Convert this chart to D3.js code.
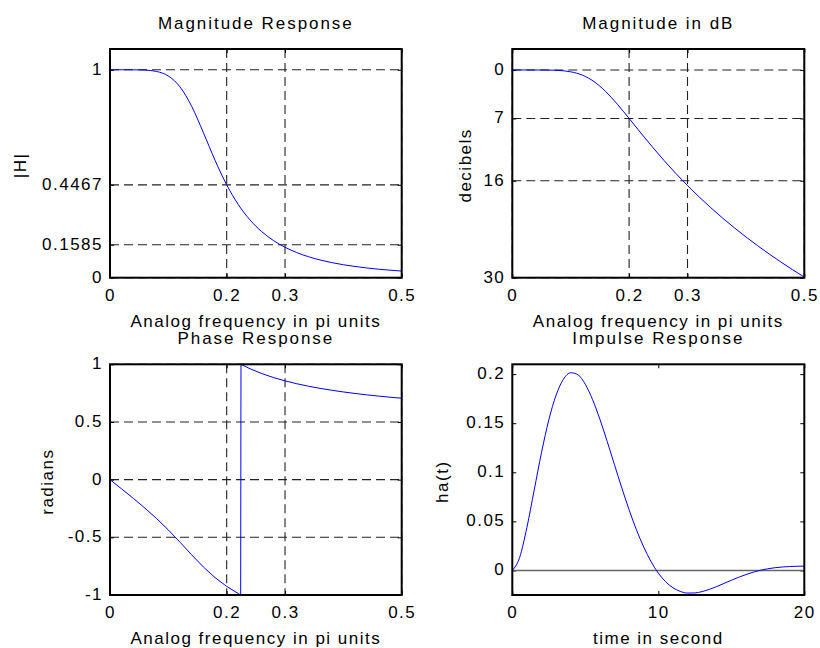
<!DOCTYPE html>
<html>
<head>
<meta charset="utf-8">
<script src="https://cdnjs.cloudflare.com/ajax/libs/d3/7.8.5/d3.min.js"></script>
<style>
body { margin: 0; background: #fff; }
svg text {
	font-family: "Liberation Sans", Arial, sans-serif;
	font-size: 17px;
	letter-spacing: 1.5px;
	fill: #000;
}
svg text.title { letter-spacing: 1.95px; }
</style>
</head>
<body>
<svg id="chart" width="820" height="648"></svg>
<script>
// analog frequency, in pi units
var freq = [0, 0.02, 0.04, 0.06, 0.08, 0.10, 0.12, 0.14, 0.16, 0.18, 0.20, 0.22, 0.24,
	0.26, 0.28, 0.30, 0.32, 0.34, 0.36, 0.38, 0.40, 0.42, 0.44, 0.46, 0.48, 0.50];

var magnitude = [1, 1.0000, 0.9999, 0.9985, 0.9919, 0.9701, 0.9178, 0.8243, 0.6983,
	0.5652, 0.4468, 0.3513, 0.2777, 0.2217, 0.1791, 0.1464, 0.1210, 0.1011, 0.0853,
	0.0726, 0.0623, 0.0539, 0.0469, 0.0410, 0.0361, 0.0320];

var decibels = [0, 0, -0.001, -0.013, -0.071, -0.264, -0.745, -1.678, -3.120, -4.956,
	-6.998, -9.086, -11.130, -13.086, -14.940, -16.690, -18.342, -19.902, -21.379,
	-22.779, -24.109, -25.376, -26.585, -27.741, -28.849, -29.911];

// phase is in pi units and wraps at -1
var phaseFreq = [0, 0.02, 0.04, 0.06, 0.08, 0.10, 0.12, 0.14, 0.16, 0.18, 0.20, 0.22,
	0.224, 0.2245, 0.226, 0.24, 0.26, 0.28, 0.30, 0.32, 0.34, 0.36, 0.38, 0.40, 0.42,
	0.44, 0.46, 0.48, 0.50];

var phase = [0, -0.0805, -0.1623, -0.2473, -0.3379, -0.4361, -0.5421, -0.6518, -0.7566,
	-0.8488, -0.9256, -0.9879, -0.9989, 0.9998, 0.9958, 0.9615, 0.9200, 0.8855, 0.8565,
	0.8317, 0.8102, 0.7915, 0.7750, 0.7603, 0.7471, 0.7353, 0.7245, 0.7148, 0.7058];

var time = [0, 0.5, 1, 1.5, 2, 2.5, 3, 3.5, 4, 4.5, 5, 5.5, 6, 6.5, 7, 7.5, 8, 8.5, 9,
	9.5, 10, 10.5, 11, 11.5, 12, 12.5, 13, 14, 15, 16, 17, 18, 19, 20];

var impulse = [0, 0.0131, 0.0438, 0.0819, 0.1200, 0.1533, 0.1786, 0.1947, 0.2014,
	0.1993, 0.1896, 0.1740, 0.1540, 0.1314, 0.1077, 0.0841, 0.0618, 0.0415, 0.0239,
	0.0091, -0.0027, -0.0115, -0.0176, -0.0213, -0.0230, -0.0229, -0.0215, -0.0164,
	-0.0100, -0.0042, 0.0002, 0.0028, 0.0040, 0.0044];

var zeroTime = [0, 20];
var zeroLevel = [0, 0];

var freqTicks = [0, 0.2, 0.3, 0.5];
var magTicks = [0, 0.1585, 0.4467, 1];
var dbTicks = [-30, -16, -7, 0];
var dbTickLabels = ["30", "16", "7", "0"];
var phaseTicks = [-1, -0.5, 0, 0.5, 1];
var timeTicks = [0, 10, 20];
var impulseTicks = [0, 0.05, 0.1, 0.15, 0.2];

var svg = d3.select("#chart");

svg.append("rect")
	.attr("width", 820)
	.attr("height", 648)
	.attr("fill", "#fff");

function drawPanel(opt) {
	var w = opt.width;
	var h = opt.height;
	var g = svg.append("g")
		.attr("transform", "translate(" + opt.left + "," + opt.top + ")");

	var x = d3.scaleLinear().domain(opt.xDomain).range([0, w]);
	var y = d3.scaleLinear().domain(opt.yDomain).range([h, 0]);

	if (opt.grid) {
		g.append("g").selectAll("line").data(opt.xTicks).enter()
			.append("line")
			.attr("x1", function(d) { return x(d); })
			.attr("x2", function(d) { return x(d); })
			.attr("y1", 0)
			.attr("y2", h)
			.attr("stroke", "#222")
			.attr("stroke-width", 1.1)
			.attr("stroke-dasharray", "9,5");
		g.append("g").selectAll("line").data(opt.yTicks).enter()
			.append("line")
			.attr("x1", 0)
			.attr("x2", w)
			.attr("y1", function(d) { return y(d); })
			.attr("y2", function(d) { return y(d); })
			.attr("stroke", "#222")
			.attr("stroke-width", 1.1)
			.attr("stroke-dasharray", "9,5");
	}

	// inside ticks on all four sides, labels only bottom and left
	var yFormat = opt.yLabels ? function(d, i) { return opt.yLabels[i]; } : function(d) { return String(d); };

	g.append("g")
		.attr("transform", "translate(0," + h + ")")
		.call(d3.axisBottom(x).tickValues(opt.xTicks).tickSizeInner(-4).tickSizeOuter(0)
			.tickPadding(11).tickFormat(function(d) { return String(d); }));
	var left = g.append("g")
		.call(d3.axisLeft(y).tickValues(opt.yTicks).tickSizeInner(-4).tickSizeOuter(0)
			.tickPadding(7).tickFormat(yFormat));
	left.selectAll("text").attr("dy", "0.26em");
	g.append("g")
		.call(d3.axisTop(x).tickValues(opt.xTicks).tickSizeInner(-4).tickSizeOuter(0).tickFormat(""));
	g.append("g")
		.attr("transform", "translate(" + w + ",0)")
		.call(d3.axisRight(y).tickValues(opt.yTicks).tickSizeInner(-4).tickSizeOuter(0).tickFormat(""));
	g.selectAll(".domain").remove();

	if (opt.zero) {
		g.append("path")
			.datum(d3.zip(opt.zero[0], opt.zero[1]))
			.attr("fill", "none")
			.attr("stroke", "#666")
			.attr("stroke-width", 1.6)
			.attr("d", d3.line()
				.x(function(d) { return x(d[0]); })
				.y(function(d) { return y(d[1]); }));
	}

	g.append("path")
		.datum(d3.zip(opt.xs, opt.ys))
		.attr("fill", "none")
		.attr("stroke", "#0000ff")
		.attr("stroke-width", 1)
		.attr("d", d3.line()
			.curve(opt.curve || d3.curveLinear)
			.x(function(d) { return x(d[0]); })
			.y(function(d) { return y(d[1]); }));

	g.append("rect")
		.attr("width", w)
		.attr("height", h)
		.attr("fill", "none")
		.attr("stroke", "#000")
		.attr("stroke-width", 2);

	g.append("text")
		.attr("class", "title")
		.attr("x", w / 2)
		.attr("y", -20)
		.attr("text-anchor", "middle")
		.text(opt.title);

	g.append("text")
		.attr("x", w / 2)
		.attr("y", h + 49.5)
		.attr("text-anchor", "middle")
		.text(opt.xLabel);

	g.append("text")
		.attr("transform", "translate(" + (-opt.yLabelOffset) + "," + (h / 2 + 2) + ") rotate(-90)")
		.attr("text-anchor", "middle")
		.text(opt.yLabel);
}

drawPanel({
	left: 110, top: 49, width: 291.7, height: 228.7,
	xDomain: [0, 0.5], yDomain: [0, 1.1],
	xTicks: freqTicks, yTicks: magTicks, grid: true,
	xs: freq, ys: magnitude, curve: d3.curveMonotoneX,
	title: "Magnitude Response", xLabel: "Analog frequency in pi units",
	yLabel: "|H|", yLabelOffset: 84
});

drawPanel({
	left: 512.3, top: 49, width: 292, height: 228.7,
	xDomain: [0, 0.5], yDomain: [-30, 3.03],
	xTicks: freqTicks, yTicks: dbTicks, yLabels: dbTickLabels, grid: true,
	xs: freq, ys: decibels, curve: d3.curveMonotoneX,
	title: "Magnitude in dB", xLabel: "Analog frequency in pi units",
	yLabel: "decibels", yLabelOffset: 41.5
});

drawPanel({
	left: 110, top: 364.3, width: 291.7, height: 230.7,
	xDomain: [0, 0.5], yDomain: [-1, 1],
	xTicks: freqTicks, yTicks: phaseTicks, grid: true,
	xs: phaseFreq, ys: phase,
	title: "Phase Response", xLabel: "Analog frequency in pi units",
	yLabel: "radians", yLabelOffset: 57
});

drawPanel({
	left: 512.3, top: 364.3, width: 292, height: 230.7,
	xDomain: [0, 20], yDomain: [-0.025, 0.21],
	xTicks: timeTicks, yTicks: impulseTicks, grid: false,
	xs: time, ys: impulse, curve: d3.curveMonotoneX,
	zero: [zeroTime, zeroLevel],
	title: "Impulse Response", xLabel: "time in second",
	yLabel: "ha(t)", yLabelOffset: 64
});
</script>
</body>
</html>
